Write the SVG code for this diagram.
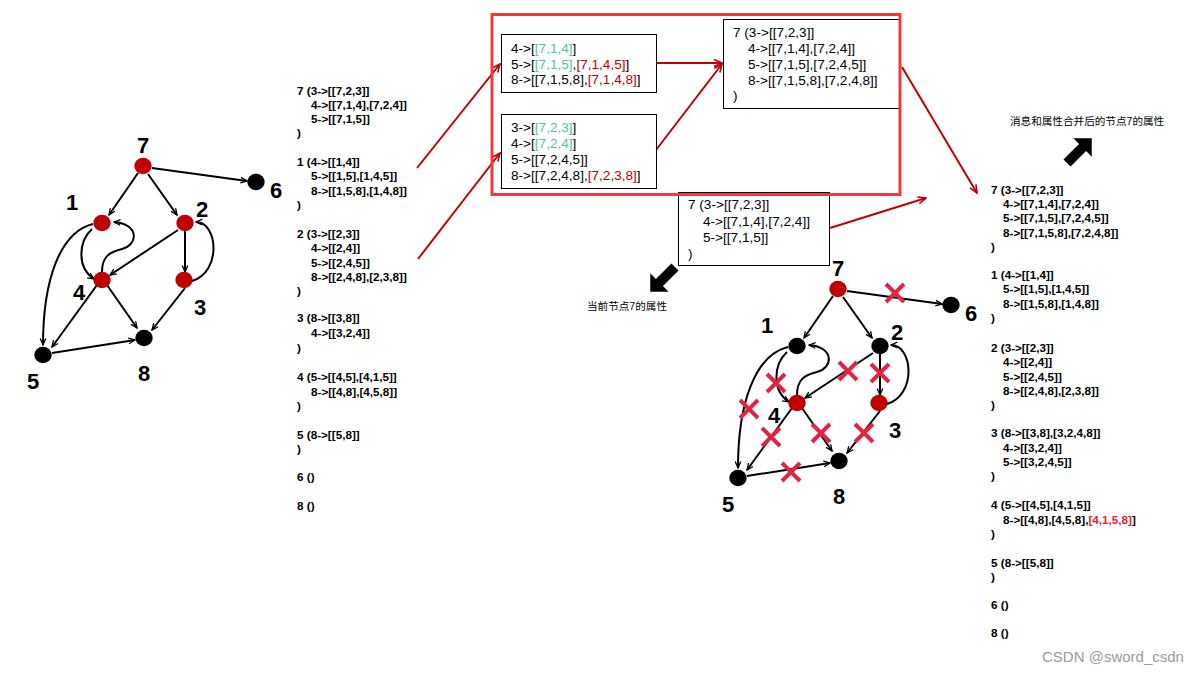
<svg xmlns="http://www.w3.org/2000/svg" width="1199" height="673" viewBox="0 0 1199 673">
<style>
.e{stroke:#000;stroke-width:2;fill:none;marker-end:url(#ah)}
.r{stroke:#c00000;stroke-width:2;fill:none;marker-end:url(#rh)}
.x{stroke:#dc2644;stroke-width:4;fill:none}
.lbl{font-family:"Liberation Sans",Arial,sans-serif;font-weight:bold;font-size:22px;text-anchor:middle;fill:#000}
.col{font-family:"Liberation Sans",Arial,sans-serif;font-weight:bold;font-size:11.7px;fill:#000}
.box{font-family:"Liberation Sans",Arial,sans-serif;font-size:13.6px;fill:#000}
.cjk{font-family:"Liberation Sans","Noto Sans CJK SC",sans-serif;font-size:10.6px;fill:#000}
.g{fill:#50c896}.rd{fill:#c00000}.rr{fill:#e8202a}
.bx{fill:#fff;stroke:#000;stroke-width:1}
.nr{fill:#c00000}.nb{fill:#000}
</style>
<defs>
<marker id="ah" viewBox="0 0 10 10" refX="9" refY="5" markerWidth="8" markerHeight="8" markerUnits="userSpaceOnUse" orient="auto"><path d="M1,1.5 L9,5 L1,8.5" fill="none" stroke="#000" stroke-width="1.6"/></marker>
<marker id="rh" viewBox="0 0 10 10" refX="9" refY="5" markerWidth="10" markerHeight="10" markerUnits="userSpaceOnUse" orient="auto"><path d="M1,1.5 L9,5 L1,8.5" fill="none" stroke="#c00000" stroke-width="1.6"/></marker>
<polygon id="blk" points="0,-5 22,-5 22,-13 35,0 22,13 22,5 0,5" fill="#000"/>
</defs>
<rect width="1199" height="673" fill="#fff"/>

<!-- connectors -->
<g id="connectors">
  <g id="left-edges">
    <path class="e" d="M138,173 L109,215"/>
    <path class="e" d="M148,174 L177,215"/>
    <path class="e" d="M152,168 L247,181"/>
    <path class="e" d="M178,230 L110,275"/>
    <path class="e" d="M185,231 L185,272"/>
    <path class="e" d="M192,281 C222,272 218,222 196,222"/>
    <path class="e" d="M102,272 C102,256 110,252 122,249 C138,245 140,224 114,222"/>
    <path class="e" d="M92,229 C78,242 77,268 94,279"/>
    <path class="e" d="M93,224 C60,232 43,280 43,345"/>
    <path class="e" d="M97,285 L52,347"/>
    <path class="e" d="M107,285 L137,328"/>
    <path class="e" d="M185,288 L152,330"/>
    <path class="e" d="M52,353 L135,340"/>
  </g>
  <g id="right-edges" transform="translate(695,123)">
    <path class="e" d="M138,173 L109,215"/>
    <path class="e" d="M148,174 L177,215"/>
    <path class="e" d="M152,168 L247,181"/>
    <path class="e" d="M178,230 L110,275"/>
    <path class="e" d="M185,231 L185,272"/>
    <path class="e" d="M192,281 C222,272 218,222 196,222"/>
    <path class="e" d="M102,272 C102,256 110,252 122,249 C138,245 140,224 114,222"/>
    <path class="e" d="M92,229 C78,242 77,268 94,279"/>
    <path class="e" d="M93,224 C60,232 43,280 43,345"/>
    <path class="e" d="M97,285 L52,347"/>
    <path class="e" d="M107,285 L137,328"/>
    <path class="e" d="M185,288 L152,330"/>
    <path class="e" d="M52,353 L135,340"/>
  </g>
  <g id="red-arrows">
    <path class="r" d="M417,168 L500,64"/>
    <path class="r" d="M418,259 L500,153"/>
    <path class="r" d="M656,63 L722,63"/>
    <path class="r" d="M656,150 L722,64"/>
    <path class="r" d="M902,67 L977,193"/>
    <path class="r" d="M830,228 L926,198"/>
  </g>
</g>

<!-- left graph nodes -->
<g id="L7"><ellipse class="nr" cx="143" cy="166" rx="8.7" ry="8.2"/><text class="lbl" x="143" y="153">7</text></g>
<g id="L6"><ellipse class="nb" cx="256" cy="182" rx="8.7" ry="8.2"/><text class="lbl" x="276" y="198">6</text></g>
<g id="L1"><ellipse class="nr" cx="102" cy="223" rx="8.7" ry="8.2"/><text class="lbl" x="72" y="210">1</text></g>
<g id="L2"><ellipse class="nr" cx="185" cy="223" rx="8.7" ry="8.2"/><text class="lbl" x="202" y="217">2</text></g>
<g id="L4"><ellipse class="nr" cx="102" cy="280" rx="8.7" ry="8.2"/><text class="lbl" x="79" y="300">4</text></g>
<g id="L3"><ellipse class="nr" cx="184" cy="280" rx="8.7" ry="8.2"/><text class="lbl" x="200" y="315">3</text></g>
<g id="L8"><ellipse class="nb" cx="144" cy="338" rx="8.7" ry="8.2"/><text class="lbl" x="144" y="381">8</text></g>
<g id="L5"><ellipse class="nb" cx="43" cy="355" rx="8.7" ry="8.2"/><text class="lbl" x="33" y="389">5</text></g>

<!-- right graph nodes -->
<g id="right-graph" transform="translate(695,123)">
<g id="R7"><ellipse class="nr" cx="143" cy="166" rx="8.7" ry="8.2"/><text class="lbl" x="143" y="153">7</text></g>
<g id="R6"><ellipse class="nb" cx="256" cy="182" rx="8.7" ry="8.2"/><text class="lbl" x="276" y="198">6</text></g>
<g id="R1"><ellipse class="nb" cx="102" cy="223" rx="8.7" ry="8.2"/><text class="lbl" x="72" y="210">1</text></g>
<g id="R2"><ellipse class="nb" cx="185" cy="223" rx="8.7" ry="8.2"/><text class="lbl" x="202" y="217">2</text></g>
<g id="R4"><ellipse class="nr" cx="102" cy="280" rx="8.7" ry="8.2"/><text class="lbl" x="79" y="300">4</text></g>
<g id="R3"><ellipse class="nr" cx="184" cy="280" rx="8.7" ry="8.2"/><text class="lbl" x="200" y="315">3</text></g>
<g id="R8"><ellipse class="nb" cx="144" cy="338" rx="8.7" ry="8.2"/><text class="lbl" x="144" y="381">8</text></g>
<g id="R5"><ellipse class="nb" cx="43" cy="355" rx="8.7" ry="8.2"/><text class="lbl" x="33" y="389">5</text></g>
</g>

<!-- red crosses -->
<g id="crosses" class="x">
  <path d="M886,284 L904,302 M886,302 L904,284"/>
  <path d="M839,362 L857,380 M839,380 L857,362"/>
  <path d="M871,364 L889,382 M871,382 L889,364"/>
  <path d="M767,374 L785,392 M767,392 L785,374"/>
  <path d="M740,400 L758,418 M740,418 L758,400"/>
  <path d="M762,428 L780,446 M762,446 L780,428"/>
  <path d="M812,424 L830,442 M812,442 L830,424"/>
  <path d="M855,424 L873,442 M855,442 L873,424"/>
  <path d="M782,463 L800,481 M782,481 L800,463"/>
</g>

<!-- left text column -->
<g id="left-text" class="col">
<text x="297" y="95">7 (3-&gt;[[7,2,3]]</text>
<text x="311" y="109">4-&gt;[[7,1,4],[7,2,4]]</text>
<text x="311" y="123">5-&gt;[[7,1,5]]</text>
<text x="297" y="137">)</text>
<text x="297" y="166">1 (4-&gt;[[1,4]]</text>
<text x="311" y="180">5-&gt;[[1,5],[1,4,5]]</text>
<text x="311" y="195">8-&gt;[[1,5,8],[1,4,8]]</text>
<text x="297" y="209">)</text>
<text x="297" y="238">2 (3-&gt;[[2,3]]</text>
<text x="311" y="252">4-&gt;[[2,4]]</text>
<text x="311" y="267">5-&gt;[[2,4,5]]</text>
<text x="311" y="281">8-&gt;[[2,4,8],[2,3,8]]</text>
<text x="297" y="295">)</text>
<text x="297" y="322">3 (8-&gt;[[3,8]]</text>
<text x="311" y="337">4-&gt;[[3,2,4]]</text>
<text x="297" y="352">)</text>
<text x="297" y="381">4 (5-&gt;[[4,5],[4,1,5]]</text>
<text x="311" y="396">8-&gt;[[4,8],[4,5,8]]</text>
<text x="297" y="410">)</text>
<text x="297" y="439">5 (8-&gt;[[5,8]]</text>
<text x="297" y="453">)</text>
<text x="297" y="481">6 ()</text>
<text x="297" y="510">8 ()</text>
</g>

<!-- top boxes -->
<g id="boxA">
<rect class="bx" x="501.5" y="34.5" width="155" height="58"/>
<text class="box" x="511" y="53">4-&gt;[<tspan class="g">[7,1,4]</tspan>]</text>
<text class="box" x="511" y="68.5">5-&gt;[<tspan class="g">[7,1,5]</tspan>,<tspan class="rd">[7,1,4,5]</tspan>]</text>
<text class="box" x="511" y="84">8-&gt;[[7,1,5,8],<tspan class="rd">[7,1,4,8]</tspan>]</text>
</g>
<g id="boxB">
<rect class="bx" x="501.5" y="114.5" width="155" height="74"/>
<text class="box" x="511" y="132">3-&gt;[<tspan class="g">[7,2,3]</tspan>]</text>
<text class="box" x="511" y="148">4-&gt;[<tspan class="g">[7,2,4]</tspan>]</text>
<text class="box" x="511" y="164">5-&gt;[[7,2,4,5]]</text>
<text class="box" x="511" y="180">8-&gt;[[7,2,4,8],<tspan class="rd">[7,2,3,8]</tspan>]</text>
</g>
<g id="boxC">
<rect class="bx" x="723.5" y="19.5" width="176" height="89"/>
<text class="box" x="733" y="37">7 (3-&gt;[[7,2,3]]</text>
<text class="box" x="748" y="53">4-&gt;[[7,1,4],[7,2,4]]</text>
<text class="box" x="748" y="69">5-&gt;[[7,1,5],[7,2,4,5]]</text>
<text class="box" x="748" y="84.5">8-&gt;[[7,1,5,8],[7,2,4,8]]</text>
<text class="box" x="733" y="100">)</text>
</g>
<g id="boxM">
<rect class="bx" x="678.5" y="192.5" width="151" height="73"/>
<text class="box" x="688" y="209">7 (3-&gt;[[7,2,3]]</text>
<text class="box" x="703" y="226">4-&gt;[[7,1,4],[7,2,4]]</text>
<text class="box" x="703" y="242">5-&gt;[[7,1,5]]</text>
<text class="box" x="688" y="258">)</text>
</g>

<!-- red frame -->
<rect id="frame" x="492" y="14.5" width="408" height="180" fill="none" stroke="#f03a3a" stroke-width="3"/>

<!-- block arrows and captions -->
<use href="#blk" transform="translate(675,267) rotate(135)"/>
<text class="cjk" x="587" y="310">当前节点7的属性</text>
<use href="#blk" transform="translate(1067,163) rotate(-45)"/>
<text class="cjk" x="1010" y="125">消息和属性合并后的节点7的属性</text>

<!-- right text column -->
<g id="right-text" class="col">
<text x="991" y="194">7 (3-&gt;[[7,2,3]]</text>
<text x="1003" y="208">4-&gt;[[7,1,4],[7,2,4]]</text>
<text x="1003" y="222">5-&gt;[[7,1,5],[7,2,4,5]]</text>
<text x="1003" y="237">8-&gt;[[7,1,5,8],[7,2,4,8]]</text>
<text x="991" y="251">)</text>
<text x="991" y="279">1 (4-&gt;[[1,4]]</text>
<text x="1003" y="293">5-&gt;[[1,5],[1,4,5]]</text>
<text x="1003" y="308">8-&gt;[[1,5,8],[1,4,8]]</text>
<text x="991" y="322">)</text>
<text x="991" y="352">2 (3-&gt;[[2,3]]</text>
<text x="1003" y="366">4-&gt;[[2,4]]</text>
<text x="1003" y="381">5-&gt;[[2,4,5]]</text>
<text x="1003" y="395">8-&gt;[[2,4,8],[2,3,8]]</text>
<text x="991" y="409">)</text>
<text x="991" y="437">3 (8-&gt;[[3,8],[3,2,4,8]]</text>
<text x="1003" y="452">4-&gt;[[3,2,4]]</text>
<text x="1003" y="466">5-&gt;[[3,2,4,5]]</text>
<text x="991" y="480">)</text>
<text x="991" y="509">4 (5-&gt;[[4,5],[4,1,5]]</text>
<text x="1003" y="524">8-&gt;[[4,8],[4,5,8],<tspan class="rr">[4,1,5,8]</tspan>]</text>
<text x="991" y="538">)</text>
<text x="991" y="567">5 (8-&gt;[[5,8]]</text>
<text x="991" y="581">)</text>
<text x="991" y="609">6 ()</text>
<text x="991" y="637">8 ()</text>
</g>

<text x="1042" y="662" font-family="Liberation Sans, Arial, sans-serif" font-size="15" fill="#9a9a9a">CSDN @sword_csdn</text>
</svg>
